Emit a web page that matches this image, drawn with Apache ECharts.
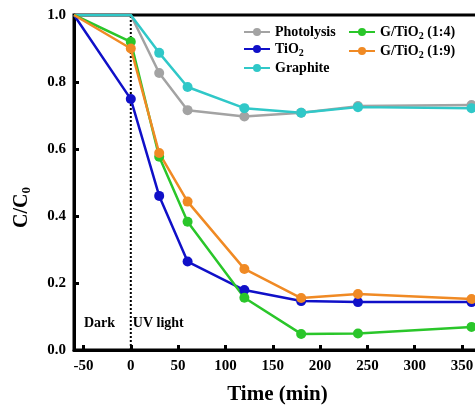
<!DOCTYPE html>
<html lang="en" style="height: 100%">
<head>
    <meta charset="utf-8"/>
    <title>C/C0 vs time</title>
    <script type="text/javascript" src="https://cdn.jsdelivr.net/npm/echarts@6/dist/echarts.min.js"></script>
</head>
<body style="height: 100%; margin: 0; background: #fff">
<div id="container" style="width: 475px; height: 408px"></div>
<script type="text/javascript">
    // sampling times (min), -60 = start of dark period
    var times = [-60, 0, 30, 60, 120, 180, 240, 360];
    var photolysis = [1.0, 1.0, 0.827, 0.716, 0.697, 0.708, 0.728, 0.731];
    var tio2 = [1.0, 0.749, 0.46, 0.264, 0.179, 0.146, 0.143, 0.143];
    var graphite = [1.0, 1.0, 0.887, 0.785, 0.722, 0.708, 0.725, 0.722];
    var g14 = [1.0, 0.92, 0.577, 0.383, 0.156, 0.048, 0.049, 0.069];
    var g19 = [1.0, 0.90, 0.588, 0.443, 0.242, 0.155, 0.167, 0.152];
    var xTicks = [-50, 0, 50, 100, 150, 200, 250, 300, 350];
    // lamp switched on at t = 0
    var divider = [[0, 0], [0, 1]];

    var font = 'Liberation Serif';
    var rich = {
        b: {fontFamily: font, fontWeight: 'bold', fontSize: 14, color: '#000'},
        s: {fontFamily: font, fontWeight: 'bold', fontSize: 10, color: '#000', padding: [8, 0, 0, 0]}
    };

    function pairs(ys) {
        // points sitting on the top frame (C/C0 = 1) show no marker
        return times.map(function (t, i) {
            var p = {value: [t, ys[i]]};
            if (ys[i] >= 1) p.symbol = 'none';
            return p;
        });
    }

    function line(name, color, ys) {
        return {
            name: name,
            type: 'line',
            data: pairs(ys),
            symbol: 'circle',
            symbolSize: 10,
            color: color,
            lineStyle: {width: 2.5, color: color},
            itemStyle: {color: color}
        };
    }

    var series = [
        {
            name: 'divider',
            type: 'line',
            data: divider,
            symbol: 'none',
            silent: true,
            z: 1,
            lineStyle: {type: 'dotted', width: 2, color: '#000'},
            markPoint: {
                symbol: 'circle',
                symbolSize: 0,
                label: {show: true, fontFamily: font, fontWeight: 'bold', fontSize: 14, color: '#000'},
                data: [
                    {coord: [-33, 0.078], value: 'Dark', label: {formatter: 'Dark'}},
                    {coord: [29, 0.078], value: 'UV light', label: {formatter: 'UV light'}}
                ]
            }
        },
        line('Photolysis', '#a3a3a3', photolysis),
        line('TiO2', '#1010c8', tio2),
        line('Graphite', '#30c8c8', graphite),
        line('G/TiO2 (1:4)', '#2ac62a', g14),
        line('G/TiO2 (1:9)', '#f08a24', g19)
    ];

    function legendFmt(name) {
        var m = name.split('2');
        if (m.length > 1) return '{b|' + m[0] + '}{s|2}{b|' + m[1] + '}';
        return '{b|' + name + '}';
    }

    var chart = echarts.init(document.getElementById('container'));
    chart.setOption({
        animation: false,
        grid: {
            left: 74, top: 15, bottom: 58, right: -6,
            outerBoundsMode: 'none',
            show: true, borderColor: '#000', borderWidth: 3
        },
        legend: [{
            orient: 'vertical',
            left: 238, top: 20,
            itemWidth: 26, itemHeight: 10, itemGap: 3,
            data: ['Photolysis', 'TiO2', 'Graphite'],
            formatter: legendFmt,
            textStyle: {rich: rich}
        }, {
            orient: 'vertical',
            left: 343, top: 20,
            itemWidth: 26, itemHeight: 10, itemGap: 3,
            data: ['G/TiO2 (1:4)', 'G/TiO2 (1:9)'],
            formatter: legendFmt,
            textStyle: {rich: rich}
        }],
        xAxis: {
            type: 'value',
            min: -60, max: 370,
            name: 'Time (min)',
            nameLocation: 'middle',
            nameGap: 34,
            nameTextStyle: {fontFamily: font, fontWeight: 'bold', fontSize: 21, color: '#000'},
            axisLine: {onZero: false, lineStyle: {color: '#000', width: 3}},
            axisTick: {inside: true, length: 5, lineStyle: {width: 3, color: '#000'}, customValues: xTicks},
            axisLabel: {fontFamily: font, fontWeight: 'bold', fontSize: 15, color: '#000', margin: 9, customValues: xTicks},
            splitLine: {show: false}
        },
        yAxis: {
            type: 'value',
            min: 0, max: 1, interval: 0.2,
            name: '{b|C/C}{s|0}',
            nameLocation: 'middle',
            nameGap: 41,
            nameRotate: 90,
            nameTextStyle: {
                padding: [0, 50, 0, 0],
                rich: {
                    b: {fontFamily: font, fontWeight: 'bold', fontSize: 20, color: '#000'},
                    s: {fontFamily: font, fontWeight: 'bold', fontSize: 13, color: '#000', padding: [10, 0, 0, 0]}
                }
            },
            axisLine: {onZero: false, lineStyle: {color: '#000', width: 3}},
            axisTick: {inside: true, length: 5, lineStyle: {width: 3, color: '#000'}},
            axisLabel: {
                fontFamily: font, fontWeight: 'bold', fontSize: 15, color: '#000', margin: 8,
                formatter: function (v) { return v.toFixed(1); }
            },
            splitLine: {show: false}
        },
        series: series
    });
</script>
</body>
</html>
